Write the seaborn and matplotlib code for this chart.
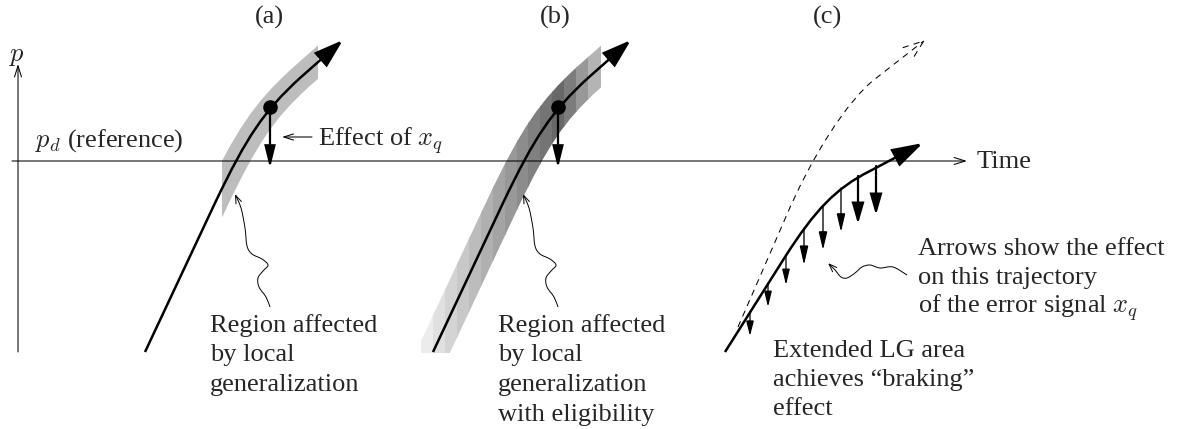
import numpy as np
import matplotlib
matplotlib.use("Agg")
import matplotlib.pyplot as plt
import seaborn as sns
from matplotlib.path import Path
from matplotlib.patches import FancyArrowPatch, PathPatch, Rectangle

# ---------------- data: pixel coordinates ----------------
W, H = 1177, 429

PANEL_LABELS = ["(a)", "(b)", "(c)"]
PANEL_LABEL_X = [269, 555, 828]
PANEL_LABEL_BASE = 24

P_AXIS_X = 18
P_AXIS_Y = [352, 64]
TIME_AXIS_Y = 161
TIME_AXIS_X = [12, 967]

# trajectories: start, start of bend, two bend controls, end of bend, tip
TRAJ_A_X = [145, 215, 247, 264, 300, 343]
TRAJ_A_Y = [352, 203, 136, 111, 78, 40]
TRAJ_B_X = [433, 503, 535, 552, 588, 631]
TRAJ_B_Y = [352, 203, 136, 111, 78, 40]
TRAJ_C_X = [725, 785, 815, 836, 870, 923]
TRAJ_C_Y = [352, 257, 210, 188, 171, 143]
DASH_C_X = [738, 785, 812, 848, 875, 925]
DASH_C_Y = [327, 219, 155, 100, 79, 40]

BAND_A_RANGE = [222, 318]
BAND_B_X = [418, 503, 535, 552, 588, 631]
BAND_B_Y = [384, 203, 136, 111, 78, 40]
BAND_B_BOTTOM = 353
BAND_B_EDGES = [421, 433, 445, 457, 469, 481, 493, 505, 517, 528, 540, 552, 564, 576, 588, 600]
BAND_B_GREYS = ["#ececec", "#e0e0e0", "#d4d4d4", "#c8c8c8", "#bcbcbc", "#b0b0b0",
                "#a4a4a4", "#989898", "#8c8c8c", "#808080", "#747474", "#686868",
                "#7c7c7c", "#989898", "#b4b4b4"]

DOT_X = [270, 558]
DOT_Y = [107, 107]
EFFECT_TIP_Y = 168

# squiggly pointers
SQ_A_X = [270, 266, 259, 258, 263, 268, 262, 252, 247, 245, 241, 235]
SQ_A_Y = [307, 297, 287, 278, 271, 265, 259, 254, 246, 228, 208, 194]
SQ_B_X = [558, 554, 547, 546, 551, 556, 550, 540, 535, 533, 529, 523]
SQ_B_Y = [307, 297, 287, 278, 271, 265, 259, 254, 246, 228, 208, 194]
SQ_C_X = [907, 893, 880, 870, 862, 855, 847, 841, 835, 828]
SQ_C_Y = [275, 267, 268, 265, 267, 273, 278, 277, 270, 263]

# "Effect of x_q" pointer
EFFECT_PTR_X = [312, 282]
EFFECT_PTR_Y = 137

# panel (c) down arrows
DOWN_X = [750, 768, 786, 804, 823, 841, 858, 876]
DOWN_Y0 = [312, 283, 255, 228, 206, 188, 176, 166]
DOWN_Y1 = [336, 307, 285, 265, 250, 232, 224, 215]

TEXT_A = ["Region affected", "by local", "generalization"]
TEXT_B = ["Region affected", "by local", "generalization", "with eligibility"]
TEXT_C1 = ["Arrows show the effect", "on this trajectory", r"of the error signal $x_q$"]
TEXT_C2 = ["Extended LG area", "achieves \u201cbraking\u201d", "effect"]

# ---------------- styles ----------------
FS = 19
TRAJ_CODES = [Path.MOVETO, Path.LINETO, Path.CURVE4, Path.CURVE4, Path.CURVE4, Path.LINETO]
DOWN_HEAD_LEN = [9, 9.5, 9.5, 11.5, 11, 11, 12.5, 12.5]
DOWN_HEAD_W = [2.3, 2.3, 2.3, 2.6, 2.6, 2.6, 3.6, 3.6]
DOWN_LW = [0.9, 0.9, 0.9, 0.95, 0.95, 0.95, 1.6, 1.6]

sns.set_theme(style="white")
plt.rcParams['font.family'] = ['Liberation Serif', 'DejaVu Serif']
plt.rcParams['mathtext.fontset'] = 'cm'

fig = plt.figure(figsize=(W / 100, H / 100), dpi=100)
ax = fig.add_axes([0, 0, 1, 1])


def traj(xs, ys):
    return Path(np.column_stack([xs, ys]).astype(float), TRAJ_CODES)


def smooth(xs, ys):
    pts = np.column_stack([xs, ys]).astype(float)
    n = len(pts)
    verts = [pts[0]]
    codes = [Path.MOVETO]
    for i in range(n - 1):
        p0 = pts[i - 1] if i > 0 else pts[i]
        p1 = pts[i]
        p2 = pts[i + 1]
        p3 = pts[i + 2] if i + 2 < n else pts[i + 1]
        verts += [p1 + (p2 - p0) / 6.0, p2 - (p3 - p1) / 6.0, p2]
        codes += [Path.CURVE4] * 3
    return Path(np.array(verts), codes)


def path_arrow(path, style, lw, ls="-", z=3):
    a = FancyArrowPatch(path=path, arrowstyle=style, mutation_scale=1,
                        lw=lw, color="black", linestyle=ls, zorder=z,
                        capstyle="butt", joinstyle="miter")
    ax.add_patch(a)


def arrow(p0, p1, style, lw, z=4):
    a = FancyArrowPatch(posA=p0, posB=p1, arrowstyle=style, mutation_scale=1,
                        lw=lw, color="black", shrinkA=0, shrinkB=0, zorder=z,
                        joinstyle="miter")
    ax.add_patch(a)


# ---- axes of the sketch ----
arrow((P_AXIS_X, P_AXIS_Y[0]), (P_AXIS_X, P_AXIS_Y[1]), "->,head_length=8,head_width=2.5", 0.75)
arrow((TIME_AXIS_X[0], TIME_AXIS_Y), (TIME_AXIS_X[1], TIME_AXIS_Y), "->,head_length=8,head_width=2.5", 0.75)

# ---- band (a) ----
band_a = PathPatch(traj(TRAJ_A_X, TRAJ_A_Y), facecolor="none", edgecolor="#bdbdbd",
                   lw=18, capstyle="butt", joinstyle="round", zorder=1)
ax.add_patch(band_a)
band_a.set_clip_path(Rectangle((BAND_A_RANGE[0], 0), BAND_A_RANGE[1] - BAND_A_RANGE[0], H,
                               transform=ax.transData))

# ---- band (b): strips ----
band_b_path = traj(BAND_B_X, BAND_B_Y)
for i, g in enumerate(BAND_B_GREYS):
    x0, x1 = BAND_B_EDGES[i], BAND_B_EDGES[i + 1]
    p = PathPatch(band_b_path, facecolor="none", edgecolor=g, lw=22.5,
                  capstyle="butt", joinstyle="round", zorder=1)
    ax.add_patch(p)
    p.set_clip_path(Rectangle((x0, 0), (x1 - x0) + 0.6, BAND_B_BOTTOM, transform=ax.transData))

# ---- trajectories ----
path_arrow(traj(TRAJ_A_X, TRAJ_A_Y), "-|>,head_length=18,head_width=5.8", 1.8)
path_arrow(traj(TRAJ_B_X, TRAJ_B_Y), "-|>,head_length=18,head_width=5.8", 1.8)
path_arrow(traj(TRAJ_C_X, TRAJ_C_Y), "-|>,head_length=19,head_width=5.8", 1.8)
path_arrow(traj(DASH_C_X, DASH_C_Y), "->,head_length=15,head_width=5.5", 0.75, ls=(0, (6, 5)))

# ---- effect arrows from the dots ----
for x, y in zip(DOT_X, DOT_Y):
    arrow((x, y), (x, EFFECT_TIP_Y), "-|>,head_length=13,head_width=3.2", 1.6)
sns.scatterplot(x=DOT_X, y=DOT_Y, s=110, color="black", edgecolor="black",
                linewidth=0, ax=ax, legend=False, zorder=5)

# ---- panel (c) down arrows ----
for x, y0, y1, hl, hw, lw in zip(DOWN_X, DOWN_Y0, DOWN_Y1, DOWN_HEAD_LEN, DOWN_HEAD_W, DOWN_LW):
    arrow((x, y0), (x, y1), f"-|>,head_length={hl},head_width={hw}", lw)

# ---- squiggly pointers ----
for xs, ys in [(SQ_A_X, SQ_A_Y), (SQ_B_X, SQ_B_Y), (SQ_C_X, SQ_C_Y)]:
    path_arrow(smooth(xs, ys), "->,head_length=6,head_width=2.2", 0.7, z=2)

arrow((EFFECT_PTR_X[0], EFFECT_PTR_Y), (EFFECT_PTR_X[1], EFFECT_PTR_Y),
      "->,head_length=7,head_width=2.2", 0.75)

# ---- texts ----
for lab, x in zip(PANEL_LABELS, PANEL_LABEL_X):
    ax.text(x, PANEL_LABEL_BASE, lab, fontsize=FS, ha="center", va="baseline")

ax.text(17, 61.5, r"$p$", fontsize=FS, ha="center", va="baseline")
ax.text(35, 147, r"$p_d$ (reference)", fontsize=FS, ha="left", va="baseline")
ax.text(318, 146, r"Effect of $x_q$", fontsize=FS, ha="left", va="baseline")
ax.text(977, 168.5, "Time", fontsize=FS, ha="left", va="baseline")


def block(x, y0, lines, dy=29.5):
    for k, s in enumerate(lines):
        ax.text(x, y0 + k * dy, s, fontsize=FS, ha="left", va="baseline")


block(210, 332, TEXT_A)
block(498, 332, TEXT_B)
block(918, 255, TEXT_C1, dy=29)
block(773, 357, TEXT_C2, dy=29)

ax.set_xlim(0, W)
ax.set_ylim(H, 0)
ax.axis("off")
fig.savefig("out.png", dpi=100, facecolor="white")
